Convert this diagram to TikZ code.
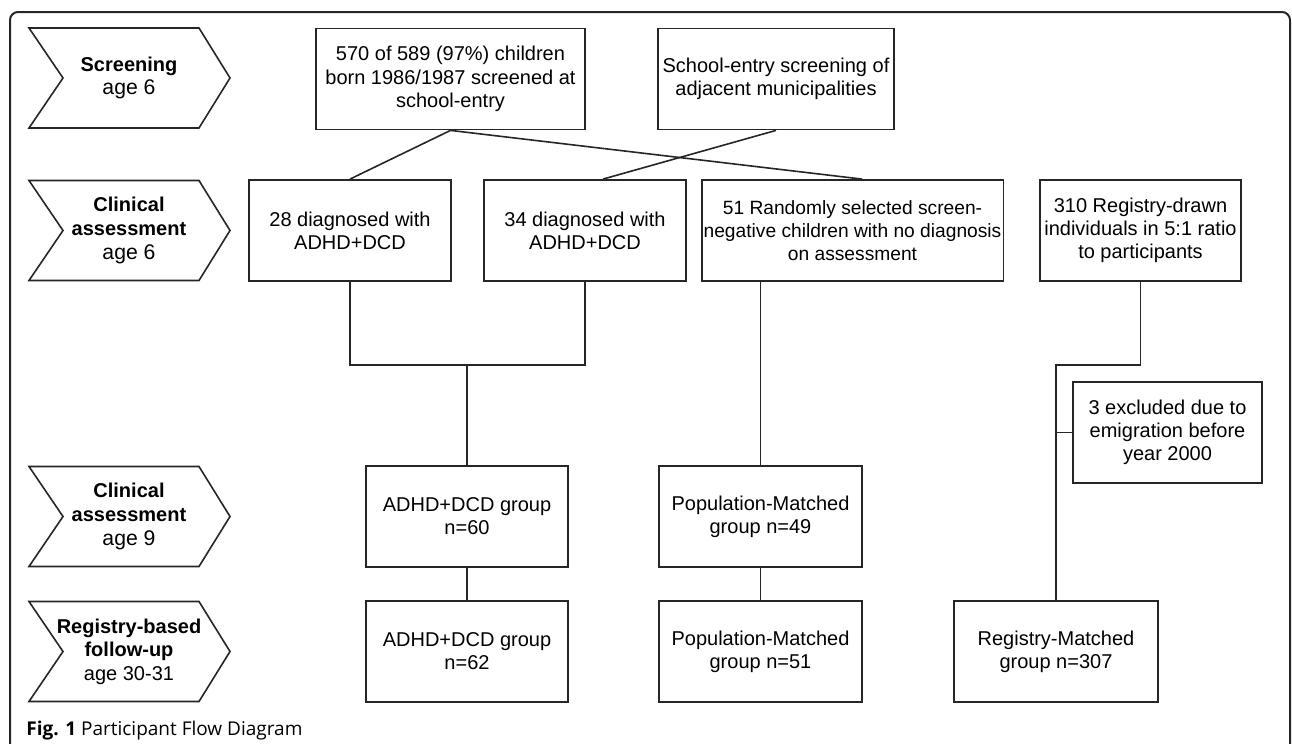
\documentclass[tikz,border=0pt]{standalone}
\usepackage{fontspec}
\setmainfont{Liberation Sans}
\newfontfamily\capfont{Open Sans}
\tikzset{
	box/.style={draw=black!85, line width=0.9pt, align=center, inner xsep=1pt, inner ysep=2pt, minimum height=50.5pt, font=\fontsize{10}{11.6}\selectfont},
	link/.style={draw=black!85, line width=0.8pt},
	phase/.style={draw=black!85, line width=0.8pt},
	phasetext/.style={align=center, inner sep=0pt, font=\fontsize{10}{11.8}\selectfont},
}
\newcommand{\phasearrow}[3]{%
	\draw[phase] (29,{#1-50}) -- (199,{#1-50}) -- (230,#1) -- (199,{#1+50}) -- (29,{#1+50}) -- (63,#1) -- cycle;
	\node[phasetext] (#2) at (129,#1) {#3};
}
\newcommand{\agetext}[1]{{\fontsize{10.6}{11.8}\selectfont #1}}
\begin{document}
\begin{tikzpicture}[x=0.5pt, y=-0.5pt]
	\useasboundingbox (0,0) rectangle (1292,744);
	\draw[black!85, line width=1pt, rounded corners=4pt] (10,744) -- (10,12) -- (1290,12) -- (1290,744);
	% stages
	\phasearrow{78}{ph1}{\textbf{Screening}\\\agetext{age 6}}
	\phasearrow{230.5}{ph2}{\textbf{Clinical}\\\textbf{assessment}\\\agetext{age 6}}
	\phasearrow{516.5}{ph3}{\textbf{Clinical}\\\textbf{assessment}\\\agetext{age 9}}
	\phasearrow{651.5}{ph4}{\textbf{Registry-based}\\\textbf{follow-up}\\age 30-31}
	% boxes
	\node[box, minimum width=134.5pt] (scr) at (450.5,79) {570 of 589 (97\%) children\\born 1986/1987 screened at\\school-entry};
	\node[box, minimum width=118pt] (adj) at (776,79) {School-entry screening of\\adjacent municipalities};
	\node[box, minimum width=101pt] (d28) at (350,230.5) {28 diagnosed with\\ADHD+DCD};
	\node[box, minimum width=101pt] (d34) at (585,230.5) {34 diagnosed with\\ADHD+DCD};
	\node[box, minimum width=149.5pt, font=\fontsize{9.6}{11.6}\selectfont] (neg) at (852.5,230.5) {51 Randomly selected screen-\\negative children with no diagnosis\\on assessment};
	\node[box, minimum width=100.5pt] (reg) at (1140.5,230.5) {310 Registry-drawn\\individuals in 5:1 ratio\\to participants};
	\node[box, minimum width=94.5pt] (excl) at (1167.5,432.5) {3 excluded due to\\emigration before\\year 2000};
	\node[box, minimum width=101pt] (grp60) at (467,516.5) {ADHD+DCD group\\n=60};
	\node[box, minimum width=101.5pt] (pop49) at (760.5,516.5) {Population-Matched\\group n=49};
	\node[box, minimum width=101pt] (grp62) at (467,651.5) {ADHD+DCD group\\n=62};
	\node[box, minimum width=101.5pt] (pop51) at (760.5,651.5) {Population-Matched\\group n=51};
	\node[box, minimum width=102pt] (reg307) at (1056,651.5) {Registry-Matched\\group n=307};
	% connectors
	\coordinate (jA) at (467,365);
	\coordinate (jB) at (1056,365);
	\draw[link] (scr.south) -- (d28.north);
	\draw[link] (scr.south) -- ([xshift=4.75pt]neg.north);
	\draw[link] (adj.south) -- ([xshift=9pt]d34.north);
	\draw[link] (d28.south) |- (jA) -| (d34.south);
	\draw[link] (jA) -- (grp60.north);
	\draw[link] (pop49.north) -- (pop49.north |- neg.south);
	\draw[link] (grp60.south) -- (grp62.north);
	\draw[link] (pop49.south) -- (pop51.north);
	\draw[link] (reg.south) |- (jB) -- (reg307.north);
	\draw[link] (excl.west) -- (excl.west -| jB);
	\node[anchor=base west, inner sep=0pt, font=\capfont\fontsize{9.5}{11}\selectfont] (cap) at (26,735) {\textbf{Fig. 1} Participant Flow Diagram};
\end{tikzpicture}
\end{document}
